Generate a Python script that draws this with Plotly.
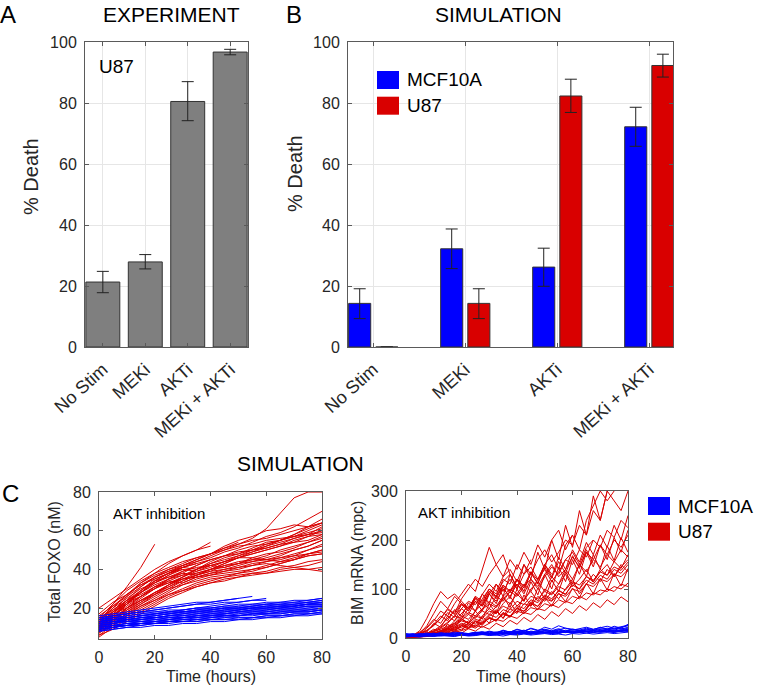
import plotly.graph_objects as go

W, H = 758, 686
FONT = "Liberation Sans, Arial, sans-serif"

# ---- panel A / B data ----
conditions = ["No Stim", "MEKi", "AKTi", "MEKi + AKTi"]

exp_u87 = [21.3, 27.9, 80.5, 96.7]
exp_u87_hi = [24.8, 30.3, 87.0, 97.6]
exp_u87_lo = [17.8, 25.6, 74.2, 95.8]

sim_mcf = [14.3, 32.2, 26.2, 72.2]
sim_mcf_hi = [19.1, 38.7, 32.4, 78.6]
sim_mcf_lo = [9.3, 25.7, 19.9, 65.8]

sim_u87 = [0, 14.3, 82.3, 92.3]
sim_u87_hi = [0, 19.1, 87.8, 96.0]
sim_u87_lo = [0, 9.3, 76.9, 88.5]

# ---- panel C data (single cell trajectories) ----
foxo_t = [0, 5, 10, 15, 20, 25, 30, 35, 40, 45, 50, 55, 60, 65, 70, 75, 80]

foxo_u87 = [
    [12, 22, 31, 41, 53],
    [10, 18, 26, 33, 38, 43, 47, 50, 54],
    [8, 15, 22, 28, 34, 38, 41, 44, 47, 50, 53, 56, 61, 69, 77, 80, 80],
    [14, 20, 27, 33, 37, 40, 42, 45, 48, 51, 53, 55, 56, 58, 60, 62, 64],
    [9, 14, 20, 25, 30, 34, 37, 40, 43, 45, 47, 50, 53, 55, 57, 59, 61],
    [11, 17, 23, 28, 33, 36, 39, 41, 42, 44, 46, 48, 50, 52, 55, 57, 58],
    [7, 12, 17, 22, 27, 31, 35, 38, 40, 42, 43, 45, 47, 50, 52, 54, 56],
    [13, 19, 24, 28, 32, 35, 37, 38, 40, 41, 43, 44, 45, 46, 48, 50, 52],
    [10, 14, 18, 22, 26, 30, 34, 37, 39, 40, 41, 42, 43, 42, 41, 40, 39],
    [12, 16, 21, 26, 30, 33, 35, 36, 37, 38, 39, 40, 41, 43, 45, 48, 50],
    [9, 13, 17, 21, 25, 29, 33, 36, 38, 40, 42, 44, 46, 48, 50, 52, 55],
    [15, 22, 29, 34, 38, 41, 44, 46, 48, 50, 52, 53, 55, 56, 57, 58, 59],
    [8, 11, 15, 19, 23, 27, 30, 33, 35, 36, 37, 38, 38, 39, 40, 40, 41],
    [11, 15, 20, 24, 28, 32, 35, 37, 40, 43, 46, 48, 50, 52, 54, 57, 60],
    [10, 16, 22, 28, 33, 37, 40],
    [12, 18, 24, 29, 34, 38, 41, 43, 45],
    [9, 12, 16, 20, 24, 28, 32, 35, 37, 39, 41, 43, 44, 46, 47, 48, 49],
    [14, 18, 22, 26, 31, 35, 39, 42, 45, 47, 49, 50, 52, 54, 56, 58, 62],
    [5, 10, 14, 18, 22, 26, 29, 32, 34, 36, 38, 40, 42, 44, 46, 48, 50],
    [20, 25, 30, 35, 40, 44, 47, 50, 52],
    [10, 15, 19, 23, 27, 30, 32, 34, 36, 37, 38, 39, 41, 43, 45, 47, 48],
    [13, 17, 20, 24, 28, 31, 34, 37, 40, 43, 46, 49, 52, 55, 58, 61, 64],
    [6, 9, 13, 17, 21, 25, 28, 31, 33, 35, 36, 38, 39, 41, 42, 44, 45],
    [16, 21, 26, 31, 36, 39, 42, 44, 46, 49, 51, 54, 57, 59, 62, 66, 70],
    [11, 16, 22, 29, 35, 38, 40, 39, 41, 44, 47, 49, 51, 53, 56, 58, 60],
    [7, 13, 20, 26, 31, 33, 36, 40, 42, 41, 43, 46, 48, 49, 51, 54, 57],
    [13, 20, 25, 30, 33, 37, 41, 40, 43, 46, 48, 51, 54, 55, 57, 60, 63],
    [9, 16, 23, 29, 34, 36, 38, 42, 45, 47, 48, 50, 51, 53, 54, 55, 58],
    [15, 19, 24, 27, 31, 34, 33, 36, 38, 39, 40, 42, 44, 45, 47, 50, 53],
    [10, 13, 19, 24, 27, 32, 36, 40, 44, 47, 50, 52, 53, 55, 58, 62, 66],
    [12, 18, 23, 26, 30, 35, 38, 37, 39, 42, 44, 45, 45, 47, 50, 52, 55],
    [8, 14, 18, 23, 28, 32, 36, 39, 42, 44, 46, 46, 45, 44, 45, 47, 48],
    [14, 21, 27, 32, 36, 39, 41, 43],
    [11, 17, 24, 31, 36, 40, 43, 46, 48, 51, 54],
    [6, 11, 16, 21, 24, 27, 29, 31, 33, 34, 36, 37, 38, 40, 41, 42, 44],
    [17, 23, 27, 32, 35, 38, 42, 45, 48, 52, 55, 57, 60, 61, 63, 62, 64],
]

foxo_mcf = [
    [15, 16, 17, 18, 19, 20, 21, 22, 23, 24, 25, 26],
    [12, 14, 15, 16, 17, 18, 19, 20, 21, 22, 23, 24, 25],
    [11, 12, 13, 14, 15, 16, 17, 18, 18, 19, 19, 20, 20, 21, 21, 22, 22],
    [9, 10, 11, 12, 13, 14, 14, 15, 16, 16, 17, 17, 18, 18, 19, 19, 20],
    [13, 14, 15, 16, 17, 17, 18, 18, 19, 19, 20, 20, 21, 21, 22, 22, 23],
    [10, 11, 12, 12, 13, 13, 14, 14, 15, 15, 16, 16, 17, 17, 18, 18, 19],
    [8, 9, 10, 10, 11, 11, 12, 12, 13, 13, 14, 14, 15, 15, 16, 16, 17],
    [12, 13, 14, 15, 16, 17, 18, 19, 19, 20, 20, 21, 21, 22, 22, 23, 24],
    [14, 15, 16, 17, 17, 18, 18, 19, 19, 20, 20, 20, 21, 21, 21, 22, 22],
    [11, 12, 13, 13, 14, 15, 15, 16, 16, 17, 17, 18, 18, 19, 19, 20, 21],
    [10, 11, 11, 12, 12, 13, 13, 13, 14, 14, 14, 15, 15, 16, 16, 17, 17],
    [13, 14, 15, 16, 16, 17, 17, 18, 18, 19, 19, 20, 20, 20, 21, 21, 21],
    [9, 10, 11, 12, 13, 14, 15, 16, 16, 17, 18, 19, 20, 20, 21, 22, 23],
    [12, 13, 13, 14, 14, 15, 15, 16, 17, 17, 18, 18, 19, 19, 20, 20, 20],
    [15, 16, 17, 18, 19, 20, 21, 22, 22, 23, 23, 24, 24],
    [8, 9, 10, 11, 12, 12, 13, 13, 14, 14, 15, 15, 16, 16, 17, 17, 18],
    [14, 16, 17, 18, 18, 19, 19, 20, 20, 21, 21, 22, 22, 23, 23, 24, 25],
    [10, 12, 13, 14, 15, 15, 16, 16, 17, 17, 18, 18, 18, 19, 19, 19, 20],
    [13, 15, 16, 17, 18, 18, 19, 20, 20, 21, 22, 22, 23, 23, 24, 24, 25],
    [11, 12, 14, 15, 15, 16, 17, 17, 18, 18, 19, 19, 19, 20, 20, 21, 21],
    [9, 11, 12, 13, 13, 14, 15, 15, 15, 16, 16, 17, 17, 17, 18, 18, 19],
    [12, 13, 14, 14, 15, 16, 16, 17, 18, 18, 19, 20, 20, 21, 21, 22, 22],
    [10, 11, 12, 13, 14, 14, 15, 15, 16, 16, 16, 17, 17, 18, 18, 18, 19],
    [14, 15, 15, 16, 17, 18, 18, 19, 20, 20, 21, 21, 22, 22, 22, 23, 23],
    [8, 10, 11, 11, 12, 13, 13, 14, 14, 15, 15, 15, 16, 16, 17, 17, 18],
    [11, 13, 14, 15, 16, 17, 18, 18, 19, 20, 20, 21, 22, 22, 23, 23, 24],
    [13, 14, 14, 15, 15, 16, 16, 17, 17, 18, 18, 19, 19, 20, 20, 21, 21],
    [9, 10, 11, 12, 12, 13, 14, 14, 15, 16, 16, 17, 17, 18, 18, 19, 19],
    [16, 17, 18, 19, 20, 21, 22, 23, 23, 24, 25],
]

bim_t = [0, 2.5, 5, 7.5, 10, 12.5, 15, 17.5, 20, 22.5, 25, 27.5, 30, 32.5,
         35, 37.5, 40, 42.5, 45, 47.5, 50, 52.5, 55, 57.5, 60, 62.5, 65,
         67.5, 70, 72.5, 75, 77.5, 80]

bim_u87 = [
    [3, 5, 15, 40, 70, 95, 80, 90, 75, 60, 85],
    [2, 4, 8, 20, 35, 55, 45, 70, 90, 110, 95, 140, 185, 150, 170, 130],
    [5, 6, 10, 15, 25, 40, 60, 50, 80, 100, 120, 105, 130, 150, 125, 160, 140,
     175, 150, 190, 165, 200, 220, 180, 210],
    [1, 3, 5, 8, 12, 20, 30, 45, 40, 60, 75, 65, 90, 110, 95, 120, 100, 130,
     145, 120, 150, 170, 140, 190, 210, 180, 240, 270, 300, 280, 300],
    [2, 3, 4, 6, 10, 15, 22, 30, 45, 38, 55, 70, 60, 85, 75, 95, 110, 90, 120,
     105, 130, 150, 125, 140, 165, 145, 175, 160, 190, 170, 200, 185, 210],
    [4, 5, 6, 8, 10, 14, 18, 25, 35, 30, 42, 55, 48, 65, 80, 70, 90, 75, 100,
     115, 95, 125, 110, 140, 120, 150, 135, 160, 145, 170, 155, 180, 165],
    [1, 2, 3, 4, 6, 8, 12, 18, 25, 35, 28, 45, 60, 50, 70, 85, 65, 80, 95, 75,
     100, 90, 110, 130, 105, 120, 140, 115, 135, 150, 125, 145, 160],
    [3, 4, 5, 7, 9, 12, 15, 20, 28, 22, 35, 30, 45, 55, 40, 60, 50, 70, 65, 85,
     75, 95, 80, 100, 120, 90, 110, 130, 115, 140, 125, 150, 135],
    [2, 2, 3, 5, 8, 12, 20, 35, 50, 65, 55, 80, 100, 85, 120, 110, 150, 130, 160],
    [5, 6, 8, 10, 15, 25, 40, 55, 70, 60, 85, 75, 100, 90, 115, 130, 105],
    [1, 2, 2, 3, 5, 7, 10, 14, 18, 25, 20, 30, 40, 35, 50, 45, 60, 55, 70, 65,
     80, 75, 90, 85, 100, 95, 110, 105, 120, 115, 130, 125, 140],
    [2, 3, 5, 7, 10, 14, 20, 28, 38, 30, 45, 40, 55, 50, 65, 58, 75, 68, 85, 80,
     95, 88, 105, 98, 115, 108, 125, 118, 135, 128, 145, 138, 155],
    [3, 4, 6, 9, 14, 22, 32, 45, 60, 75, 68, 90, 110, 95, 125, 140, 115, 150,
     130, 160, 180, 155, 175, 200, 190, 230, 210, 260, 240, 300, 280, 260, 300],
    [1, 1, 2, 3, 4, 6, 8, 11, 15, 20, 26, 22, 30, 38, 34, 45, 40, 52, 48, 60,
     56, 68, 62, 75, 70, 85, 78, 92, 88, 100, 95, 110, 105],
    [4, 5, 7, 10, 14, 18, 24, 30, 40, 52, 45, 60, 75, 65, 85, 100, 90, 110, 95,
     120, 140, 115, 135, 160, 150, 180, 165, 200, 185, 220, 205, 240, 225],
    [2, 3, 4, 5, 7, 10, 13, 17, 22, 28, 24, 32, 40, 36, 48, 44, 55, 50, 62, 58,
     70, 65, 78, 72, 85, 80, 92, 88, 98, 95, 105, 100, 112],
    [1, 2, 4, 6, 9, 13, 18, 26, 36, 48, 40, 58, 70, 62, 80, 95, 85, 105, 120,
     100, 125, 145, 130, 160, 175, 150, 185, 200],
    [3, 3, 4, 6, 8, 11, 16, 22, 30, 26, 38, 34, 48, 42, 58, 52, 66, 60, 78, 72,
     88, 80, 96, 90, 108, 100, 118, 110, 128, 120, 140, 132, 150],
    [2, 4, 10, 25, 50, 75, 60, 85, 70, 55, 80, 65, 90, 75, 100, 85, 110, 95],
    [1, 3, 6, 12, 30, 22, 45, 35, 60, 48, 75, 55, 90, 70, 105, 80, 120, 95,
     135, 110, 150, 125, 165, 140, 180, 155, 195, 170, 210, 185, 230, 200, 250],
    [3, 4, 5, 9, 18, 12, 28, 20, 40, 30, 55, 38, 70, 50, 85, 62, 100, 75, 115,
     88, 130, 100, 145, 115, 160, 130, 175, 145, 190, 160, 205, 175, 220],
    [1, 2, 3, 5, 8, 16, 10, 24, 15, 32, 22, 44, 30, 58, 40, 72, 52, 88, 65,
     102, 80, 118, 95, 135, 110, 152, 125, 170, 140, 188, 158, 205, 175],
    [4, 5, 8, 14, 28, 45, 35, 58, 44, 72, 55, 90, 70, 110, 85, 130, 100, 150,
     120, 175, 140, 200, 160, 230, 185, 260, 210, 290, 240, 300],
    [2, 2, 4, 7, 12, 9, 18, 14, 25, 19, 33, 26, 42, 34, 52, 42, 62, 50, 72, 58,
     82, 66, 92, 74, 102, 82, 112, 90, 122, 98, 132, 106, 142],
    [5, 7, 12, 22, 38, 30, 52, 42, 68, 55, 82, 68, 95, 80, 108, 92, 120, 102,
     132, 112, 144, 122, 156, 132, 168, 142, 180, 152],
    [1, 1, 2, 4, 6, 10, 7, 14, 10, 19, 14, 24, 18, 30, 23, 36, 28, 42, 33, 48,
     38, 54, 44, 60, 50, 66, 56, 72, 62, 78, 68, 84, 74],
    [3, 5, 9, 16, 26, 40, 58, 48, 70, 60, 82, 72, 95, 84, 108, 96, 120, 106,
     135, 118, 150, 130],
    [2, 3, 4, 6, 9, 14, 20, 16, 26, 21, 34, 28, 42, 36, 52, 44, 62, 54, 74, 64,
     86, 76, 98, 88, 112, 100, 126, 114, 140, 128, 156, 142, 170],
]

bim_mcf = [
    [6, 8, 5, 7, 9, 6, 8, 10, 7, 9, 11, 8, 12, 10, 9, 13, 11, 14, 12, 10, 15,
     13, 11, 16, 14, 12, 17, 15, 13, 18, 16, 20, 17],
    [4, 5, 7, 4, 6, 8, 5, 7, 6, 9, 7, 10, 8, 6, 11, 9, 12, 10, 8, 13, 11, 9, 14,
     12, 10, 15, 13, 11, 16, 14, 12, 17, 15],
    [8, 6, 9, 7, 5, 8, 10, 7, 9, 6, 10, 12, 9, 11, 14, 10, 13, 16, 12, 15, 18,
     14, 17, 20, 16, 19, 22, 18, 21, 24, 20, 23, 26],
    [3, 4, 3, 5, 4, 6, 5, 4, 7, 5, 6, 8, 6, 7, 9, 7, 8, 10, 8, 9, 11, 9, 10, 12,
     10, 11, 13, 11, 12, 14, 12, 13, 15],
    [7, 5, 6, 8, 6, 7, 5, 9, 7, 8, 6, 10, 8, 9, 7, 11, 9, 10, 8, 12, 10, 11, 9,
     13, 11, 12, 10, 14, 12, 13, 11, 15, 13],
    [5, 7, 6, 8, 7, 9, 8, 6, 10, 8, 11, 9, 13, 10, 15, 12, 17, 14, 19, 15, 22,
     18, 25, 20, 18, 16, 14, 15, 17, 20, 18, 22, 25],
    [2, 3, 2, 4, 3, 5, 4, 3, 6, 4, 5, 7, 5, 6, 4, 7, 6, 8, 6, 7, 9, 7, 8, 6, 9,
     8, 10, 8, 9, 11, 9, 10, 12],
    [9, 7, 8, 10, 8, 11, 9, 12, 10, 8, 11, 13, 10, 12, 9, 11, 14, 12, 10, 13,
     15, 12, 14, 11, 13, 16, 14, 12, 15, 17, 14, 16, 20],
    [5, 6, 4, 6, 5, 7, 6, 8, 6, 7, 9, 7, 8, 10, 8, 9, 7, 10, 12, 9, 11, 13, 10,
     12, 14, 11, 13, 15, 12, 14, 16, 13, 18],
    [4, 6, 5, 7, 6, 8, 5, 7, 9, 6, 8, 10, 7, 9, 11, 8, 10, 12, 9, 11, 13, 10,
     12, 14, 11, 13, 15, 12, 14, 16, 13, 15, 17],
    [7, 9, 6, 8, 10, 7, 9, 8, 11, 9, 12, 10, 14, 11, 16, 12, 18, 14, 20, 16, 17,
     15, 19, 14, 18, 16, 20, 17, 22, 18, 24, 20, 28],
    [3, 5, 4, 6, 5, 4, 6, 5, 7, 6, 8, 7, 9, 8, 10, 9, 11, 10, 12, 11, 10, 12,
     11, 13, 12, 14, 13, 15, 14, 13, 15, 14, 16],
    [6, 4, 7, 5, 8, 6, 9, 7, 10, 8, 9, 11, 10, 12, 11, 13, 12, 10, 14, 12, 15,
     13, 16, 14, 17, 15, 18, 16, 19, 17, 20, 18, 22],
]

BLUE = "#0000FF"
RED = "#D90000"
GRAY = "#7F7F7F"
EDGE = "#333333"
AXIS = "#5A5A5A"
TXT = "#262626"


def px(x):
    return x / W


def py(y):
    return 1 - y / H


def err(vals, hi, lo):
    return dict(type="data", symmetric=False,
                array=[h - v for v, h in zip(vals, hi)],
                arrayminus=[v - l for v, l in zip(vals, lo)],
                color="#222222", thickness=1, width=6)


def join_traces(t, traces):
    xs, ys = [], []
    for tr in traces:
        xs += t[:len(tr)] + [None]
        ys += tr + [None]
    return xs, ys


pos = [0, 1, 2, 3]

fig = go.Figure()

# A - experiment
fig.add_trace(go.Bar(x=pos, y=exp_u87, width=0.8,
                     marker=dict(color=GRAY, line=dict(color=EDGE, width=1)),
                     error_y=err(exp_u87, exp_u87_hi, exp_u87_lo),
                     showlegend=False, xaxis="x", yaxis="y"))

# B - simulation
fig.add_trace(go.Bar(x=pos, y=sim_mcf, width=0.24, offset=-0.265,
                     marker=dict(color=BLUE, line=dict(color=EDGE, width=1)),
                     error_y=err(sim_mcf, sim_mcf_hi, sim_mcf_lo),
                     name="MCF10A", showlegend=False, xaxis="x2", yaxis="y2"))
fig.add_trace(go.Bar(x=pos, y=sim_u87, width=0.24, offset=0.03,
                     marker=dict(color=RED, line=dict(color=EDGE, width=1)),
                     error_y=err(sim_u87, sim_u87_hi, sim_u87_lo),
                     name="U87", showlegend=False, xaxis="x2", yaxis="y2"))

# C - trajectories
for traces, t, color, xa, ya in [
    (foxo_u87, foxo_t, RED, "x3", "y3"),
    (foxo_mcf, foxo_t, BLUE, "x3", "y3"),
    (bim_u87, bim_t, RED, "x4", "y4"),
    (bim_mcf, bim_t, BLUE, "x4", "y4"),
]:
    xs, ys = join_traces(t, traces)
    fig.add_trace(go.Scatter(x=xs, y=ys, mode="lines",
                             line=dict(color=color, width=1),
                             showlegend=False, xaxis=xa, yaxis=ya))

ax = dict(showline=True, linecolor=AXIS, linewidth=1, mirror="ticks",
          ticks="inside", ticklen=4, tickcolor=AXIS, zeroline=False,
          automargin=False, ticklabelstandoff=4,
          tickfont=dict(size=16, color=TXT, family=FONT))
grid = dict(showgrid=True, gridcolor="#E6E6E6", gridwidth=1)
nogrid = dict(showgrid=False)
cat_font = dict(size=18, color=TXT, family=FONT)

fig.update_layout(
    width=W, height=H, margin=dict(l=0, r=0, t=0, b=0),
    paper_bgcolor="white", plot_bgcolor="white",
    font=dict(family=FONT, color=TXT),
    barmode="overlay",
    xaxis=dict(**ax, **grid, domain=[px(85), px(248)], range=[-0.42, 3.42],
               tickvals=pos, ticktext=conditions, tickangle=-42, anchor="y"),
    yaxis=dict(**ax, **grid, domain=[py(347), py(42)], range=[0, 100],
               dtick=20, anchor="x"),
    xaxis2=dict(**ax, **grid, domain=[px(348), px(673)], range=[-0.272, 3.26],
                tickvals=pos, ticktext=conditions, tickangle=-42, anchor="y2"),
    yaxis2=dict(**ax, **grid, domain=[py(347), py(42)], range=[0, 100],
                dtick=20, anchor="x2"),
    xaxis3=dict(**ax, **nogrid, domain=[px(99), px(322)], range=[0, 80],
                dtick=20, anchor="y3"),
    yaxis3=dict(**ax, **nogrid, domain=[py(639), py(492)], range=[4, 80],
                tickvals=[20, 40, 60, 80], anchor="x3"),
    xaxis4=dict(**ax, **nogrid, domain=[px(406), px(628)], range=[0, 80],
                dtick=20, anchor="y4"),
    yaxis4=dict(**ax, **nogrid, domain=[py(638), py(491)], range=[0, 300],
                dtick=100, anchor="x4"),
)
fig.update_layout(xaxis_tickfont=cat_font, xaxis2_tickfont=cat_font)

notes = [
    ("A", 8, 14, 24, 0), ("B", 294, 14, 24, 0), ("C", 10, 493, 24, 0),
    ("EXPERIMENT", 171, 15, 21, 0), ("SIMULATION", 498, 15, 21, 0),
    ("SIMULATION", 300, 463, 21, 0),
    ("% Death", 31, 177, 20, -90), ("% Death", 295, 174, 20, -90),
    ("Total FOXO (nM)", 54, 562, 16, -90), ("BIM mRNA (mpc)", 357, 563, 16, -90),
    ("Time (hours)", 211, 676, 16, 0), ("Time (hours)", 521, 676, 16, 0),
]
for text, x, y, size, ang in notes:
    fig.add_annotation(text=text, x=px(x), y=py(y), xref="paper", yref="paper",
                       showarrow=False, textangle=ang,
                       font=dict(size=size, color="black" if size >= 21 else TXT),
                       xanchor="center", yanchor="middle")

for text, x, y, size in [("U87", 97, 66, 19), ("AKT inhibition", 111, 513, 15),
                         ("AKT inhibition", 416, 512, 15)]:
    fig.add_annotation(text=text, x=px(x), y=py(y), xref="paper", yref="paper",
                       showarrow=False, font=dict(size=size, color="black"),
                       xanchor="left", yanchor="middle")

# legends (B and C)
for lx, ly in [(377, 71), (648, 497)]:
    for i, (name, color) in enumerate([("MCF10A", BLUE), ("U87", RED)]):
        y0 = ly + i * 25.7
        fig.add_shape(type="rect", xref="paper", yref="paper",
                      x0=px(lx), x1=px(lx + 22), y0=py(y0 + 18), y1=py(y0),
                      fillcolor=color, line=dict(color=color, width=0))
        fig.add_annotation(text=name, x=px(lx + 28), y=py(y0 + 9),
                           xref="paper", yref="paper", showarrow=False,
                           font=dict(size=19, color="black"),
                           xanchor="left", yanchor="middle")

# page body has a default 8px margin; drop it so the figure sits at 0,0
fig.write_html("out.html", config={"displayModeBar": False},
               post_script="document.body.style.margin='0px';")
